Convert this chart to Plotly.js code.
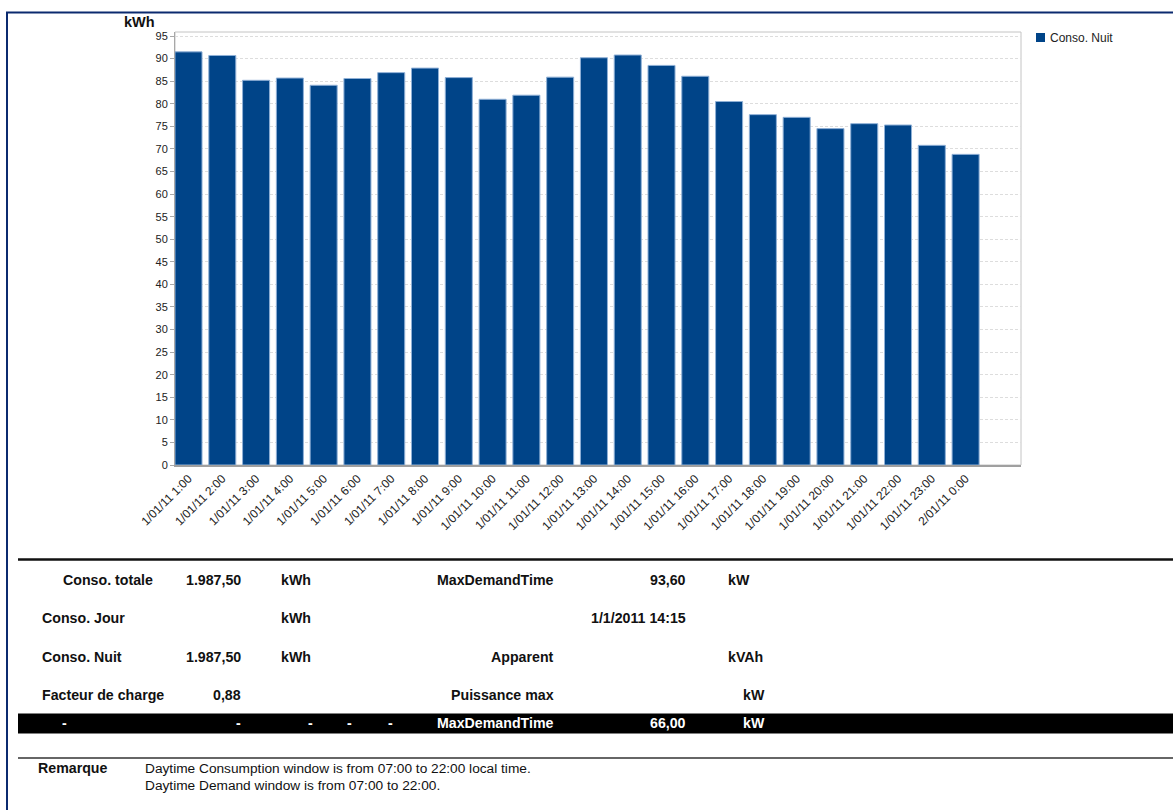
<!DOCTYPE html>
<html>
<head>
<meta charset="utf-8">
<script src="https://cdn.plot.ly/plotly-3.0.1.min.js"></script>
<style>
  html, body { margin: 0; padding: 0; background: #ffffff; }
  #chart { width: 1173px; height: 810px; }
</style>
</head>
<body>
<div id="chart"></div>
<script>
// ---- Chart data ----
const hourLabels = [
  "1/01/11 1:00", "1/01/11 2:00", "1/01/11 3:00", "1/01/11 4:00", "1/01/11 5:00", "1/01/11 6:00",
  "1/01/11 7:00", "1/01/11 8:00", "1/01/11 9:00", "1/01/11 10:00", "1/01/11 11:00", "1/01/11 12:00",
  "1/01/11 13:00", "1/01/11 14:00", "1/01/11 15:00", "1/01/11 16:00", "1/01/11 17:00", "1/01/11 18:00",
  "1/01/11 19:00", "1/01/11 20:00", "1/01/11 21:00", "1/01/11 22:00", "1/01/11 23:00", "2/01/11 0:00"
];
const consoNuit = [
  91.5, 90.7, 85.2, 85.7, 84.1, 85.6,
  86.9, 87.9, 85.8, 81.0, 81.9, 85.9,
  90.2, 90.8, 88.5, 86.1, 80.5, 77.6,
  77.0, 74.5, 75.6, 75.3, 70.8, 68.8
];
const yTickValues = [0,5,10,15,20,25,30,35,40,45,50,55,60,65,70,75,80,85,90,95];
const seriesName = "Conso. Nuit";
const yUnit = "kWh";

// ---- Summary table text ----
const rowLabels = ["Conso. totale", "Conso. Jour", "Conso. Nuit", "Facteur de charge"];
const rowValues = ["1.987,50", "", "1.987,50", "0,88"];
const rowUnits = ["kWh", "kWh", "kWh", ""];
const rightLabels = ["MaxDemandTime", "", "Apparent", "Puissance max"];
const rightValues = ["93,60", "1/1/2011 14:15", "", ""];
const rightUnits = ["kW", "", "kVAh", "kW"];
const bandDashes = ["-", "-", "-", "-", "-"];
const bandLabel = "MaxDemandTime";
const bandValue = "66,00";
const bandUnit = "kW";
const remarkLabel = "Remarque";
const remarkLines = [
  "Daytime Consumption window is from 07:00 to 22:00 local time.",
  "Daytime Demand window is from 07:00 to 22:00."
];

// ---- Layout helpers (pixel -> paper) ----
const PL = 175, PR = 1021, PT = 32, PB = 465;
const W = 1173, H = 810;
const px = x => (x - PL) / (PR - PL);
const py = y => (PB - y) / (PB - PT);

const FONT = "Liberation Sans, Arial, sans-serif";

const ann = [];
function txt(text, x, y, anchor, opts) {
  opts = opts || {};
  if (!text) return;
  ann.push({
    text: opts.bold === false ? text : "<b>" + text + "</b>",
    xref: "paper", yref: "paper", x: px(x), y: py(y),
    xanchor: anchor, yanchor: "middle", showarrow: false,
    borderpad: 0, borderwidth: 0,
    font: { family: FONT, size: opts.size || 14.2, color: opts.color || "#111111" }
  });
}

// axis title
txt(yUnit, 155, 22, "right", { size: 14.5 });

// legend (manual)
txt(seriesName, 1050, 38, "left", { bold: false, size: 12, color: "#222222" });

// table rows
const rowY = [580, 618, 657, 695];
const labelX = [63, 42, 42, 42];
for (let i = 0; i < 4; i++) {
  txt(rowLabels[i], labelX[i], rowY[i], "left");
  txt(rowValues[i], 241, rowY[i], "right");
  txt(rowUnits[i], 281, rowY[i], "left");
  txt(rightLabels[i], 554, rowY[i], "right");
  txt(rightValues[i], 686, rowY[i], "right");
  if (i === 3) txt(rightUnits[i], 765, rowY[i], "right");
  else txt(rightUnits[i], 728, rowY[i], "left");
}
// black band row
const dashX = [64, 238, 310, 349, 390];
bandDashes.forEach((d, i) => txt(d, dashX[i], 723, "center", { color: "#ffffff" }));
txt(bandLabel, 554, 723, "right", { color: "#ffffff" });
txt(bandValue, 686, 723, "right", { color: "#ffffff" });
txt(bandUnit, 765, 723, "right", { color: "#ffffff" });

// remark
txt(remarkLabel, 38, 768, "left", { size: 14.2 });
txt(remarkLines[0], 145, 768, "left", { bold: false, size: 13.7 });
txt(remarkLines[1], 145, 785, "left", { bold: false, size: 13.7 });

const shapes = [
  // outer navy frame
  { type: "line", xref: "paper", yref: "paper", x0: px(7), x1: px(7), y0: py(12), y1: py(830),
    line: { color: "#0b2a6f", width: 2 } },
  { type: "line", xref: "paper", yref: "paper", x0: px(6), x1: px(1190), y0: py(12.5), y1: py(12.5),
    line: { color: "#0b2a6f", width: 2 } },
  // plot border
  { type: "rect", xref: "paper", yref: "paper", x0: 0, x1: 1, y0: 0, y1: 1,
    line: { color: "#c4c4c4", width: 1 }, layer: "below" },
  // legend square
  { type: "rect", xref: "paper", yref: "paper", x0: px(1036), x1: px(1045), y0: py(33), y1: py(42),
    fillcolor: "#004488", line: { color: "#004488", width: 0 } },
  // table separators
  { type: "line", xref: "paper", yref: "paper", x0: px(18), x1: px(1190), y0: py(559.5), y1: py(559.5),
    line: { color: "#111111", width: 2.5 } },
  { type: "rect", xref: "paper", yref: "paper", x0: px(18), x1: px(1190), y0: py(713.5), y1: py(733.5),
    fillcolor: "#000000", line: { width: 0 } },
  { type: "line", xref: "paper", yref: "paper", x0: px(18), x1: px(1190), y0: py(758), y1: py(758),
    line: { color: "#666666", width: 2 } }
];

const trace = {
  type: "bar",
  name: seriesName,
  x: hourLabels,
  y: consoNuit,
  marker: { color: "#004488", line: { color: "#8fb0d6", width: 1 } },
  hoverinfo: "x+y",
  showlegend: false
};

const layout = {
  width: W, height: H,
  margin: { l: PL, r: W - PR, t: PT, b: H - PB, pad: 0 },
  paper_bgcolor: "#ffffff",
  plot_bgcolor: "#ffffff",
  bargap: 0.2,
  showlegend: false,
  font: { family: FONT, color: "#222222" },
  xaxis: {
    type: "category",
    range: [-0.4, 24.64],
    tickangle: -45,
    tickfont: { family: FONT, size: 12, color: "#222222" },
    showgrid: false,
    showline: true, linecolor: "#a0a0a0", linewidth: 2,
    ticks: "", zeroline: false, fixedrange: true
  },
  yaxis: {
    range: [0, 95.9],
    tickvals: yTickValues,
    tickfont: { family: FONT, size: 11, color: "#222222" },
    showgrid: true, gridcolor: "#dddddd", griddash: "3px,2px", gridwidth: 1,
    showline: true, linecolor: "#a8a8a8", linewidth: 1,
    ticks: "outside", ticklen: 4, tickcolor: "#a8a8a8",
    zeroline: false, fixedrange: true
  },
  shapes: shapes,
  annotations: ann
};

Plotly.newPlot("chart", [trace], layout, { displayModeBar: false, staticPlot: true });
</script>
</body>
</html>
